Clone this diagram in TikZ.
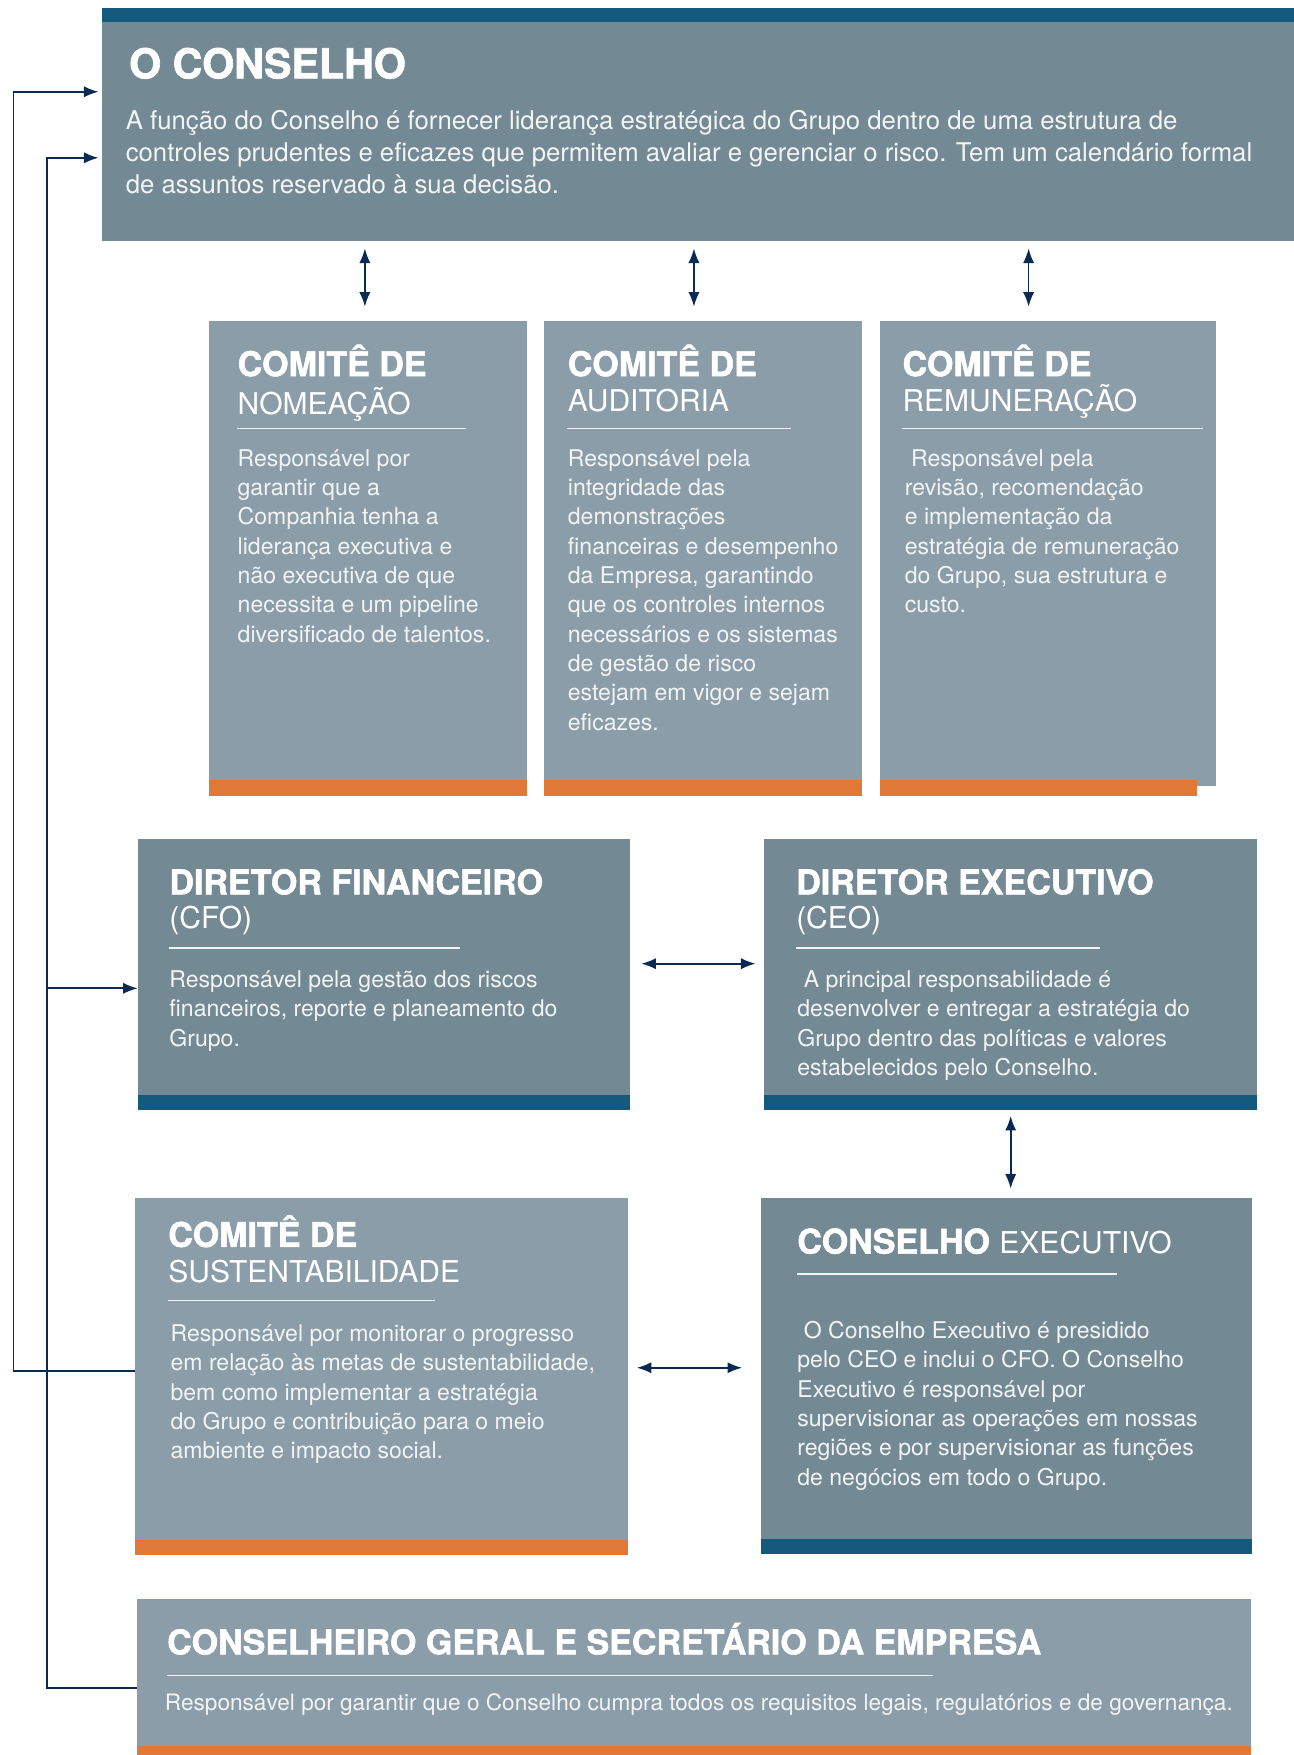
\documentclass[tikz,border=0pt]{standalone}
\usepackage{fontspec}
\setmainfont{TeX Gyre Heros}[BoldFeatures={FakeBold=1.6}]
\usetikzlibrary{arrows.meta,calc}

\definecolor{azulbarra}{HTML}{135A7C}
\definecolor{cinzaescuro}{HTML}{738993}
\definecolor{cinzaclaro}{HTML}{8A9DA8}
\definecolor{laranja}{HTML}{E07838}
\definecolor{azulseta}{HTML}{0B2A52}
\definecolor{textoclaro}{HTML}{F2F4F5}

\tikzset{
  caixa/.style={rectangle, anchor=north west, inner sep=0pt, outer sep=0pt},
  titulo/.style={anchor=base west, inner sep=0pt, text=white,
    font=\fontsize{15.2}{16}\selectfont\bfseries},
  subtitulo/.style={anchor=base west, inner sep=0pt, text=white,
    font=\fontsize{13.4}{14}\selectfont},
  corpo/.style={anchor=north west, inner sep=0pt, align=left, text=textoclaro,
    font=\fontsize{10.3}{13.1}\selectfont},
  filete/.style={draw=white!88!cinzaclaro, line width=0.7pt},
  liga/.style={draw=azulseta, line width=0.75pt, -{Latex[length=6.5pt,width=5pt]}},
  duplo/.style={liga, {Latex[length=6.5pt,width=5pt]}-{Latex[length=6.5pt,width=5pt]}},
}

\begin{document}
\begin{tikzpicture}[x=0.5pt,y=-0.5pt]
  \useasboundingbox (0,0) rectangle (1156,1568);

  % caixas
  \node[caixa, fill=cinzaescuro, minimum width=532.5pt, minimum height=104pt] (conselho) at (91,7) {};
  \node[caixa, fill=cinzaclaro, minimum width=142pt, minimum height=212pt] (nomeacao) at (187,287) {};
  \node[caixa, fill=cinzaclaro, minimum width=142pt, minimum height=212pt] (auditoria) at (486,287) {};
  \node[caixa, fill=cinzaclaro, minimum width=150pt, minimum height=207.5pt] (remuneracao) at (786,287) {};
  \node[caixa, fill=cinzaescuro, minimum width=220pt, minimum height=121pt] (cfo) at (123,750) {};
  \node[caixa, fill=cinzaescuro, minimum width=220pt, minimum height=121pt] (ceo) at (683,750) {};
  \node[caixa, fill=cinzaclaro, minimum width=220pt, minimum height=159.5pt] (sust) at (121,1070) {};
  \node[caixa, fill=cinzaescuro, minimum width=219.5pt, minimum height=159pt] (executivo) at (680,1070) {};
  \node[caixa, fill=cinzaclaro, minimum width=498pt, minimum height=69.5pt] (secretario) at (122,1429) {};

  % faixas de cor
  \fill[azulbarra] (conselho.north west) rectangle ([yshift=-6.5pt]conselho.north east);
  \fill[laranja] (nomeacao.south west) rectangle ([yshift=7pt]nomeacao.south east);
  \fill[laranja] (auditoria.south west) rectangle ([yshift=7pt]auditoria.south east);
  \fill[laranja] ([yshift=2.5pt]remuneracao.south west) rectangle ([xshift=-8.5pt,yshift=-4.5pt]remuneracao.south east);
  \fill[azulbarra] (cfo.south west) rectangle ([yshift=7pt]cfo.south east);
  \fill[azulbarra] (ceo.south west) rectangle ([yshift=7pt]ceo.south east);
  \fill[laranja] (sust.south west) rectangle ([yshift=6.5pt]sust.south east);
  \fill[azulbarra] (executivo.south west) rectangle ([yshift=6.5pt]executivo.south east);
  \fill[laranja] (secretario.south west) rectangle ([yshift=4pt]secretario.south east);

  % O Conselho
  \node[titulo, font=\fontsize{18.4}{20}\selectfont\bfseries] (tconselho) at (115,70) {O CONSELHO};
  \node[corpo, font=\fontsize{11.5}{14.25}\selectfont] (cconselho) at (112,98)
    {A função do Conselho é fornecer liderança estratégica do Grupo dentro de uma estrutura de\\
     controles prudentes e eficazes que permitem avaliar e gerenciar o risco. Tem um calendário formal\\
     de assuntos reservado à sua decisão.};

  % comites
  \node[titulo] at (212,336) {COMITÊ DE};
  \node[subtitulo] at (212,370) {NOMEAÇÃO};
  \draw[filete] (212,383) -- (416,383);
  \node[corpo] at (212,401)
    {Responsável por\\garantir que a\\Companhia tenha a\\liderança executiva e\\não executiva de que\\
     necessita e um pipeline\\diversificado de talentos.};

  \node[titulo] at (507,336) {COMITÊ DE};
  \node[subtitulo] at (507,368) {AUDITORIA};
  \draw[filete] (507,383) -- (707,383);
  \node[corpo] at (507,401)
    {Responsável pela\\integridade das\\demonstrações\\financeiras e desempenho\\da Empresa, garantindo\\
     que os controles internos\\necessários e os sistemas\\de gestão de risco\\estejam em vigor e sejam\\eficazes.};

  \node[titulo] at (806,336) {COMITÊ DE};
  \node[subtitulo] at (806,368) {REMUNERAÇÃO};
  \draw[filete] (806,383) -- (1075,383);
  \node[corpo] at (808,401)
    {\ Responsável pela\\revisão, recomendação\\e implementação da\\estratégia de remuneração\\
     do Grupo, sua estrutura e\\custo.};

  % diretores
  \node[titulo] at (151,799) {DIRETOR FINANCEIRO};
  \node[subtitulo] at (151,830) {(CFO)};
  \draw[filete] (151,847) -- (411,847);
  \node[corpo] at (151,867)
    {Responsável pela gestão dos riscos\\financeiros, reporte e planeamento do\\Grupo.};

  \node[titulo] at (711,799) {DIRETOR EXECUTIVO};
  \node[subtitulo] at (711,830) {(CEO)};
  \draw[filete] (711,847) -- (983,847);
  \node[corpo] at (712,867)
    {\ A principal responsabilidade é\\desenvolver e entregar a estratégia do\\
     Grupo dentro das políticas e valores\\estabelecidos pelo Conselho.};

  % sustentabilidade e conselho executivo
  \node[titulo] at (150,1114) {COMITÊ DE};
  \node[subtitulo] at (150,1146) {SUSTENTABILIDADE};
  \draw[filete] (150,1162) -- (389,1162);
  \node[corpo] at (152,1183)
    {Responsável por monitorar o progresso\\em relação às metas de sustentabilidade,\\
     bem como implementar a estratégia\\do Grupo e contribuição para o meio\\ambiente e impacto social.};

  \node[titulo] at (712,1120) {CONSELHO \mdseries\fontsize{13.4}{14}\selectfont EXECUTIVO};
  \draw[filete] (712,1138) -- (998,1138);
  \node[corpo] at (712,1180)
    {\ O Conselho Executivo é presidido\\pelo CEO e inclui o CFO. O Conselho\\Executivo é responsável por\\
     supervisionar as operações em nossas\\regiões e por supervisionar as funções\\de negócios em todo o Grupo.};

  % secretario
  \node[titulo] at (149,1478) {CONSELHEIRO GERAL E SECRETÁRIO DA EMPRESA};
  \draw[filete] (149,1497) -- (834,1497);
  \node[corpo, anchor=base west, font=\fontsize{10.1}{12}\selectfont] at (147,1528)
    {Responsável por garantir que o Conselho cumpra todos os requisitos legais, regulatórios e de governança.};

  % setas duplas
  \draw[duplo, shorten <=3.5pt, shorten >=6.5pt] ([xshift=-1.5pt]nomeacao.north |- conselho.south) -- ([xshift=-1.5pt]nomeacao.north);
  \draw[duplo, shorten <=3.5pt, shorten >=6.5pt] ([xshift=-4pt]auditoria.north |- conselho.south) -- ([xshift=-4pt]auditoria.north);
  \draw[duplo, shorten <=3.5pt, shorten >=6.5pt] ([xshift=-8.5pt]remuneracao.north |- conselho.south) -- ([xshift=-8.5pt]remuneracao.north);
  \draw[duplo, shorten <=5pt, shorten >=4pt] ([yshift=5pt]cfo.east) -- ([yshift=5pt]ceo.west);
  \draw[duplo, shorten <=2.5pt, shorten >=4pt] (ceo.south) -- (ceo.south |- executivo.north);
  \draw[duplo, shorten <=4pt, shorten >=8.5pt] ([yshift=3.75pt]sust.east) -- ([yshift=3.75pt]sust.east -| executivo.west);

  % trilhos da esquerda ate o Conselho
  \coordinate (trilhoA) at (12,82);
  \coordinate (trilhoB) at (42,141);
  \coordinate (entradacfo) at ([yshift=-6pt]cfo.west);
  \draw[liga, shorten >=1.5pt] ([yshift=2.25pt]sust.west) -| (trilhoA) -- (trilhoA -| conselho.west);
  \draw[liga, shorten >=1.5pt] ([yshift=-4.75pt]secretario.west) -| (trilhoB) -- (trilhoB -| conselho.west);
  \draw[liga] (entradacfo -| trilhoB) -- (entradacfo);
\end{tikzpicture}
\end{document}
